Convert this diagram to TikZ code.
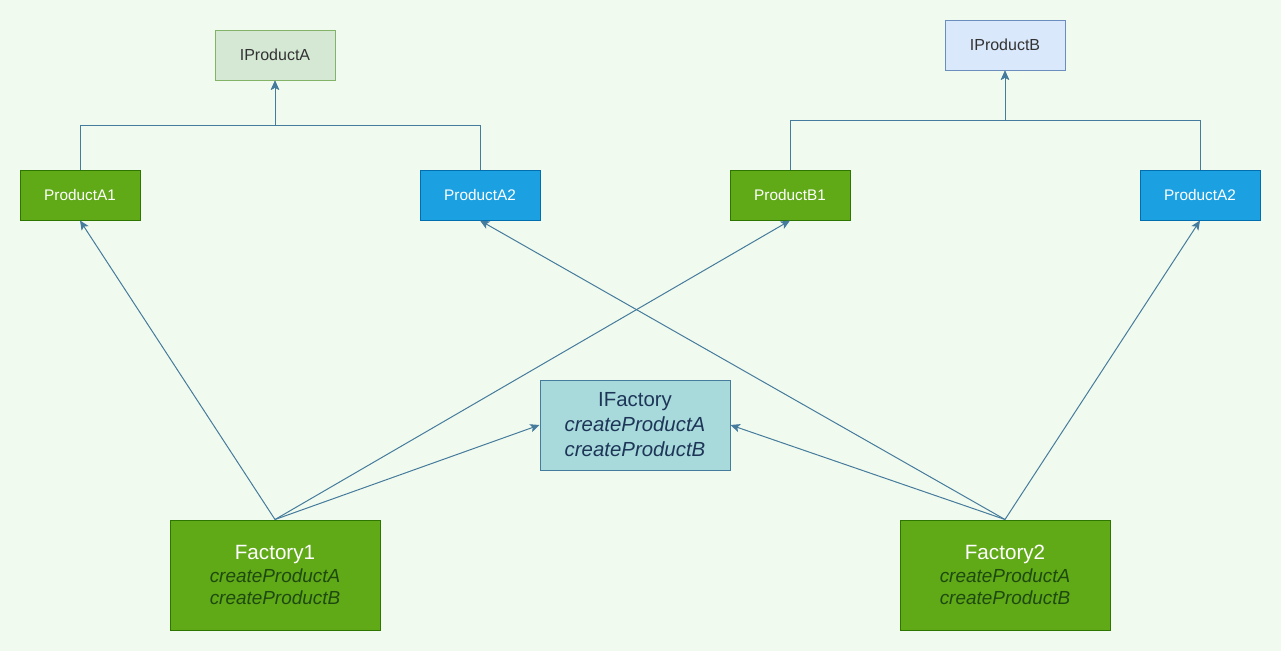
\documentclass[tikz,border=0pt]{standalone}
\usepackage{fontspec}
\setmainfont{Liberation Sans}
\usetikzlibrary{arrows.meta}
\definecolor{bg}{HTML}{F1FAEE}
\definecolor{edge}{HTML}{457B9D}
\definecolor{ink}{HTML}{1D3557}
\definecolor{gfill}{HTML}{60A917}
\definecolor{gline}{HTML}{2D7600}
\definecolor{bfill}{HTML}{1BA1E2}
\definecolor{bline}{HTML}{006EAF}
\definecolor{lgfill}{HTML}{D5E8D4}
\definecolor{lgline}{HTML}{82B366}
\definecolor{lbfill}{HTML}{DAE8FC}
\definecolor{lbline}{HTML}{6C8EBF}
\definecolor{tfill}{HTML}{A8DADC}
\definecolor{dgreen}{HTML}{1E4A10}
\tikzset{
  box/.style={draw, line width=0.75pt, inner sep=0pt, align=center},
  iface/.style={box, minimum width=90pt, minimum height=37.5pt, text=black!80, font=\fontsize{12}{14}\selectfont},
  prod/.style={box, minimum width=90pt, minimum height=37.5pt, text=white, font=\fontsize{11.5}{14}\selectfont},
  fact/.style={box, fill=gfill, draw=gline, minimum width=157.5pt, minimum height=82.5pt},
  conn/.style={draw=edge, line width=0.75pt},
  arr/.style={conn, -{Stealth[length=7pt,width=6.2pt,inset=1.6pt]}},
}
\begin{document}
\begin{tikzpicture}[x=0.75pt,y=-0.75pt]
\fill[bg] (0,0) rectangle (1281,651);
\useasboundingbox (0,0) rectangle (1281,651);

\node[iface, fill=lgfill, draw=lgline] (ia) at (275,55) {IProductA};
\node[iface, fill=lbfill, draw=lbline] (ib) at (1005,45) {IProductB};

\node[prod, fill=gfill, draw=gline] (pa1) at (80,195) {ProductA1};
\node[prod, fill=bfill, draw=bline] (pa2) at (480,195) {ProductA2};
\node[prod, fill=gfill, draw=gline] (pb1) at (790,195) {ProductB1};
\node[prod, fill=bfill, draw=bline] (pa2r) at (1200,195) {ProductA2};

\node[box, fill=tfill, draw=edge, minimum width=142.5pt, minimum height=67.5pt, text=ink,
  font=\fontsize{15.3}{18.8}\selectfont] (if) at (635,425)
  {IFactory\\ \itshape createProductA\\ \itshape createProductB};

\node[fact, font=\fontsize{14.2}{16.9}\selectfont] (f1) at (275,575)
  {\textcolor{white}{\fontsize{15.5}{17}\selectfont Factory1}\\ \textcolor{dgreen}{\itshape createProductA}\\ \textcolor{dgreen}{\itshape createProductB}};
\node[fact, font=\fontsize{14.2}{16.9}\selectfont] (f2) at (1005,575)
  {\textcolor{white}{\fontsize{15.5}{17}\selectfont Factory2}\\ \textcolor{dgreen}{\itshape createProductA}\\ \textcolor{dgreen}{\itshape createProductB}};

\coordinate (ja) at (275,125);
\coordinate (jb) at (1005,120);

\draw[arr] (pa1.north) |- (ja) -- (ia.south);
\draw[arr] (pa2.north) |- (ja) -- (ia.south);
\draw[arr] (pb1.north) |- (jb) -- (ib.south);
\draw[arr] (pa2r.north) |- (jb) -- (ib.south);

\draw[arr] (f1.north) -- (pa1.south);
\draw[arr] (f1.north) -- (pb1.south);
\draw[arr] (f1.north) -- (if.west);
\draw[arr] (f2.north) -- (pa2.south);
\draw[arr] (f2.north) -- (pa2r.south);
\draw[arr] (f2.north) -- (if.east);
\end{tikzpicture}
\end{document}
